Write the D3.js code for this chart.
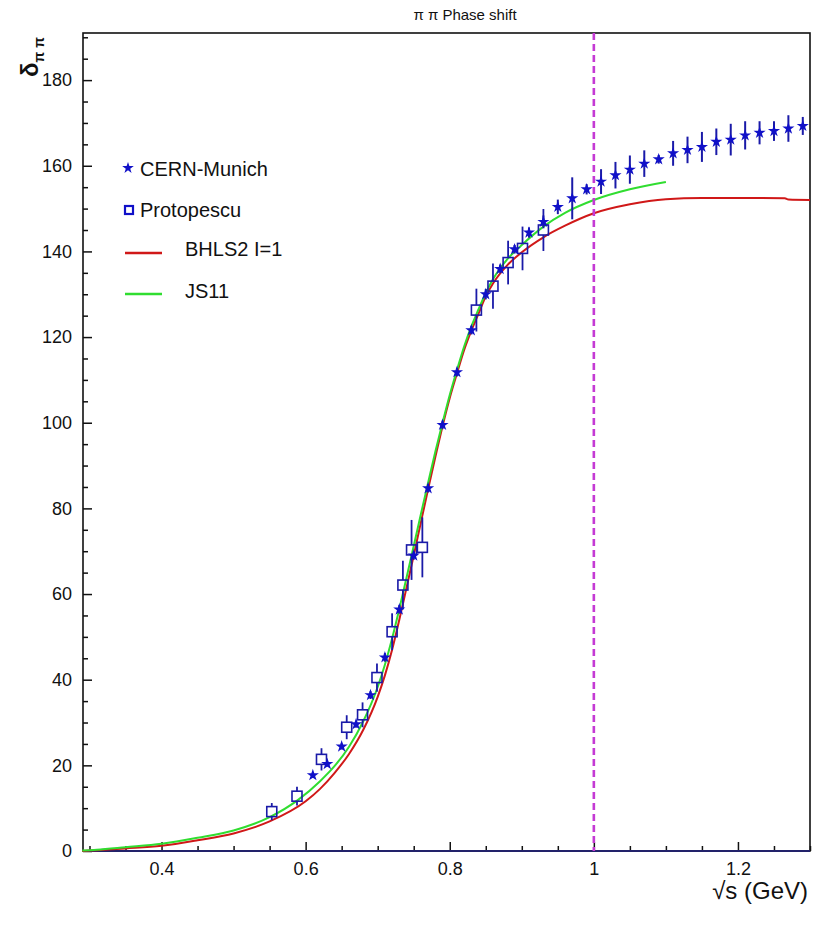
<!DOCTYPE html>
<html>
<head>
<meta charset="utf-8">
<script src="https://cdn.jsdelivr.net/npm/d3@7"></script>
<style>
  body { margin: 0; background: #fff; }
  text { font-family: "Liberation Sans", Arial, Helvetica, sans-serif; }
</style>
</head>
<body>
<svg id="phaseChart"></svg>
<script>
// CERN-Munich points (stars)
const cernX = [0.61, 0.63, 0.65, 0.67, 0.69, 0.71, 0.73, 0.75, 0.77, 0.79, 0.81, 0.83,
  0.85, 0.87, 0.89, 0.91, 0.93, 0.95, 0.97, 0.99, 1.01, 1.03, 1.05, 1.07, 1.09, 1.11,
  1.13, 1.15, 1.17, 1.19, 1.21, 1.23, 1.25, 1.27, 1.29];
const cernY = [17.7, 20.3, 24.4, 29.6, 36.4, 45.2, 56.4, 69.0, 84.7, 99.5, 111.8, 121.6,
  130.0, 135.9, 140.5, 144.4, 146.9, 150.4, 152.4, 154.5, 156.3, 157.8, 159.1, 160.5, 161.5, 162.9,
  163.7, 164.4, 165.6, 166.1, 167.1, 167.7, 168.1, 168.7, 169.3];
const cernErr = [0.6, 0.6, 0.7, 0.8, 0.9, 1.0, 1.0, 1.0, 1.0, 1.0, 1.0, 1.0,
  1.2, 1.0, 1.0, 1.2, 1.5, 1.7, 4.9, 1.2, 2.9, 3.1, 3.3, 3.1, 1.0, 2.9,
  3.1, 3.5, 3.1, 3.7, 3.3, 2.7, 2.3, 3.1, 2.1];

// Protopescu points (open squares)
const protoX = [0.553, 0.588, 0.622, 0.657, 0.679, 0.699, 0.720, 0.735, 0.747, 0.762,
  0.837, 0.860, 0.881, 0.901, 0.930];
const protoY = [9.2, 12.8, 21.4, 28.9, 31.8, 40.5, 51.2, 62.1, 70.3, 70.9,
  126.3, 131.9, 137.4, 140.7, 145.0];
const protoErr = [2.0, 2.2, 2.6, 2.8, 2.9, 3.3, 4.3, 5.7, 7.0, 7.0,
  5.0, 5.3, 5.1, 5.1, 4.9];

// BHLS2 I=1 curve (red)
const bhlsX = [0.29, 0.31, 0.35, 0.40, 0.45, 0.50, 0.55, 0.60, 0.62, 0.64, 0.66, 0.68, 0.70,
  0.71, 0.72, 0.73, 0.74, 0.75, 0.76, 0.77, 0.78, 0.79, 0.80, 0.81, 0.82, 0.83, 0.84, 0.85, 0.86,
  0.88, 0.90, 0.93, 0.96, 1.00, 1.05, 1.10, 1.15, 1.20, 1.265, 1.27, 1.30];
const bhlsY = [0.0, 0.2, 0.6, 1.2, 2.5, 4.1, 6.9, 11.6, 14.5, 18.2, 22.6, 28.3, 36.0,
  41.0, 47.0, 54.0, 61.5, 69.0, 76.8, 84.5, 92.0, 99.2, 105.8, 111.5, 117.0, 121.5, 125.5, 129.5, 132.5,
  136.8, 139.8, 143.3, 146.0, 148.9, 151.0, 152.2, 152.5, 152.5, 152.4, 152.1, 152.0];

// JS11 curve (green)
const jsX = [0.29, 0.31, 0.35, 0.40, 0.45, 0.50, 0.55, 0.59, 0.62, 0.64, 0.66, 0.68, 0.70,
  0.71, 0.72, 0.73, 0.74, 0.75, 0.76, 0.77, 0.78, 0.79, 0.80, 0.81, 0.82, 0.83, 0.84, 0.85, 0.86,
  0.88, 0.90, 0.93, 0.96, 1.00, 1.05, 1.10];
const jsY = [0.1, 0.3, 0.9, 1.7, 3.1, 4.8, 7.9, 12.0, 16.3, 19.8, 24.3, 30.3, 38.3,
  43.5, 49.6, 56.5, 63.8, 71.2, 78.7, 86.0, 93.2, 100.0, 106.5, 112.3, 117.8, 122.5, 126.5, 130.3, 133.5,
  138.2, 141.5, 145.8, 149.0, 152.0, 154.5, 156.2];

const xMajorTicks = [0.4, 0.6, 0.8, 1, 1.2];
const yMajorTicks = [0, 20, 40, 60, 80, 100, 120, 140, 160, 180];
const thresholdX = 1.0;

const blue = "#1010c8";
const barBlue = "#1a1aa8";

function getChartConfig() {
  const dimensions = {
    width: 824,
    height: 931,
    margin: { top: 33, bottom: 80, left: 83, right: 14 }
  };
  const chart = d3.select("#phaseChart")
    .attr("width", dimensions.width)
    .attr("height", dimensions.height);
  return {
    dimensions,
    container: chart,
    inner: {
      width: dimensions.width - dimensions.margin.left - dimensions.margin.right,
      height: dimensions.height - dimensions.margin.top - dimensions.margin.bottom
    }
  };
}

function getScales(config) {
  const xScale = d3.scaleLinear()
    .domain([0.291, 1.3])
    .range([0, config.inner.width]);
  const yScale = d3.scaleLinear()
    .domain([0, 191])
    .range([config.inner.height, 0]);
  return { xScale, yScale };
}

function drawAxes(config, scales, g) {
  const { xScale, yScale } = scales;
  const h = config.inner.height;

  // minor ticks
  const xMinor = d3.range(0.30, 1.301, 0.05).filter(v => !xMajorTicks.some(t => Math.abs(t - v) < 1e-6));
  g.append("g")
    .attr("transform", `translate(0,${h})`)
    .call(d3.axisBottom(xScale).tickValues(xMinor).tickSize(-5).tickFormat(""))
    .call(s => s.select(".domain").remove());
  const yMinor = d3.range(5, 191, 5).filter(v => v % 20 !== 0);
  g.append("g")
    .call(d3.axisLeft(yScale).tickValues(yMinor).tickSize(-5).tickFormat(""))
    .call(s => s.select(".domain").remove());

  const axisX = d3.axisBottom(xScale)
    .tickValues(xMajorTicks)
    .tickSize(-9)
    .tickPadding(11)
    .tickFormat(d => String(d));
  g.append("g")
    .attr("class", "x-axis")
    .attr("transform", `translate(0,${h})`)
    .call(axisX)
    .call(s => s.select(".domain").remove())
    .selectAll("text")
    .attr("font-size", 18)
    .attr("fill", "#111");

  const axisY = d3.axisLeft(yScale)
    .tickValues(yMajorTicks)
    .tickSize(-9)
    .tickPadding(11);
  g.append("g")
    .attr("class", "y-axis")
    .call(axisY)
    .call(s => s.select(".domain").remove())
    .selectAll("text")
    .attr("font-size", 18)
    .attr("fill", "#111");

  g.selectAll(".tick line").attr("stroke", "#111").attr("stroke-width", 1.5);
  g.selectAll(".tick text").attr("font-family", "Liberation Sans, Arial, sans-serif");

  // frame
  g.append("rect")
    .attr("width", config.inner.width)
    .attr("height", h)
    .attr("fill", "none")
    .attr("stroke", "#111")
    .attr("stroke-width", 1.6);
  g.append("line")
    .attr("x1", 0).attr("x2", config.inner.width)
    .attr("y1", h).attr("y2", h)
    .attr("stroke", "#22226a")
    .attr("stroke-width", 1.8);
}

function drawCurves(scales, g) {
  const { xScale, yScale } = scales;
  const line = d3.line()
    .x(d => xScale(d[0]))
    .y(d => yScale(d[1]))
    .curve(d3.curveMonotoneX);

  g.append("path")
    .datum(d3.zip(bhlsX, bhlsY))
    .attr("d", line)
    .attr("fill", "none")
    .attr("stroke", "#d01818")
    .attr("stroke-width", 2);

  g.append("path")
    .datum(d3.zip(jsX, jsY))
    .attr("d", line)
    .attr("fill", "none")
    .attr("stroke", "#30dd30")
    .attr("stroke-width", 2);
}

function drawThreshold(config, scales, g) {
  const { xScale } = scales;
  g.append("line")
    .attr("x1", xScale(thresholdX)).attr("x2", xScale(thresholdX))
    .attr("y1", 0).attr("y2", config.inner.height)
    .attr("stroke", "#c43ad4")
    .attr("stroke-width", 2.6)
    .attr("stroke-dasharray", "7,4");
}

function drawPoints(scales, g) {
  const { xScale, yScale } = scales;
  const star = d3.symbol(d3.symbolStar).size(46);
  const half = 5;

  // Protopescu error bars, split around the open square
  const proto = d3.zip(protoX, protoY, protoErr);
  const pg = g.append("g");
  proto.forEach(([x, y, e]) => {
    const cx = xScale(x), cy = yScale(y);
    const top = yScale(y + e), bot = yScale(y - e);
    if (top < cy - half) {
      pg.append("line").attr("x1", cx).attr("x2", cx).attr("y1", top).attr("y2", cy - half)
        .attr("stroke", barBlue).attr("stroke-width", 1.8);
    }
    if (bot > cy + half) {
      pg.append("line").attr("x1", cx).attr("x2", cx).attr("y1", cy + half).attr("y2", bot)
        .attr("stroke", barBlue).attr("stroke-width", 1.8);
    }
  });
  pg.selectAll("rect")
    .data(proto)
    .join("rect")
    .attr("x", d => xScale(d[0]) - half)
    .attr("y", d => yScale(d[1]) - half)
    .attr("width", half * 2)
    .attr("height", half * 2)
    .attr("fill", "none")
    .attr("stroke", barBlue)
    .attr("stroke-width", 1.6);

  // CERN-Munich
  const cern = d3.zip(cernX, cernY, cernErr);
  g.append("g").selectAll("line")
    .data(cern)
    .join("line")
    .attr("x1", d => xScale(d[0])).attr("x2", d => xScale(d[0]))
    .attr("y1", d => yScale(d[1] + d[2]))
    .attr("y2", d => yScale(d[1] - d[2]))
    .attr("stroke", barBlue)
    .attr("stroke-width", 2);
  g.append("g").selectAll("path")
    .data(cern)
    .join("path")
    .attr("d", star)
    .attr("transform", d => `translate(${xScale(d[0])},${yScale(d[1])})`)
    .attr("fill", blue);
}

function drawLabels(config) {
  const { container } = config;

  container.append("text")
    .attr("x", 465).attr("y", 20)
    .attr("text-anchor", "middle")
    .attr("font-size", 15)
    .attr("fill", "#111")
    .text("π π Phase shift");

  container.append("text")
    .attr("x", 808).attr("y", 899)
    .attr("text-anchor", "end")
    .attr("font-size", 24)
    .attr("fill", "#111")
    .text("√s (GeV)");

  const yl = container.append("text")
    .attr("transform", "translate(38,77) rotate(-90)")
    .attr("text-anchor", "start")
    .attr("font-weight", "bold")
    .attr("fill", "#111");
  yl.append("tspan").attr("font-size", 24).text("δ");
  yl.append("tspan").attr("font-size", 14).attr("dy", 6).text("π π");

  // legend
  const lg = container.append("g");
  lg.append("path")
    .attr("d", d3.symbol(d3.symbolStar).size(42))
    .attr("transform", "translate(128,168)")
    .attr("fill", blue);
  lg.append("text").attr("x", 140).attr("y", 176).attr("font-size", 20).attr("fill", "#111")
    .text("CERN-Munich");

  lg.append("rect")
    .attr("x", 125).attr("y", 206).attr("width", 8).attr("height", 8)
    .attr("fill", "none").attr("stroke", blue).attr("stroke-width", 2.2);
  lg.append("text").attr("x", 140).attr("y", 217).attr("font-size", 20).attr("fill", "#111")
    .text("Protopescu");

  lg.append("line").attr("x1", 125).attr("x2", 162).attr("y1", 253).attr("y2", 253)
    .attr("stroke", "#d01818").attr("stroke-width", 2.5);
  lg.append("text").attr("x", 185).attr("y", 256).attr("font-size", 20).attr("fill", "#111")
    .text("BHLS2 I=1");

  lg.append("line").attr("x1", 125).attr("x2", 162).attr("y1", 294).attr("y2", 294)
    .attr("stroke", "#30dd30").attr("stroke-width", 2.5);
  lg.append("text").attr("x", 185).attr("y", 298).attr("font-size", 20).attr("fill", "#111")
    .text("JS11");
}

function renderPhaseShift() {
  const config = getChartConfig();
  const scales = getScales(config);
  const g = config.container.append("g")
    .attr("transform", `translate(${config.dimensions.margin.left},${config.dimensions.margin.top})`);
  drawAxes(config, scales, g);
  drawCurves(scales, g);
  drawThreshold(config, scales, g);
  drawPoints(scales, g);
  drawLabels(config);
}

renderPhaseShift();
</script>
</body>
</html>
